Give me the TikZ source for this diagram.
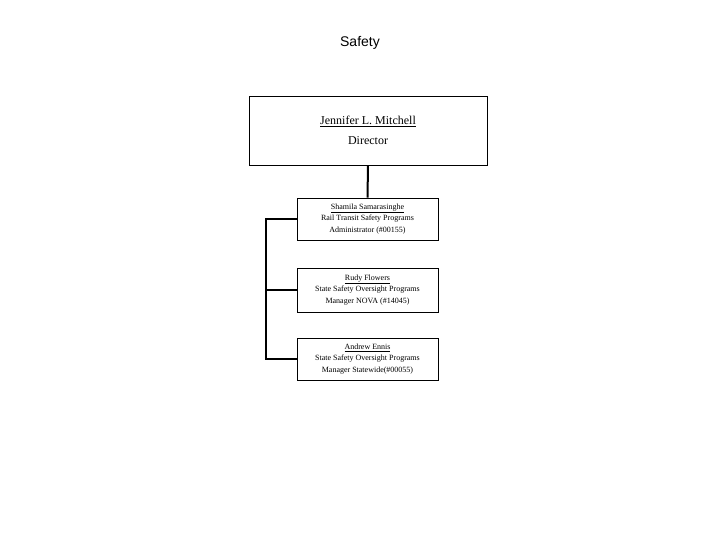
\documentclass[tikz,border=0pt]{standalone}
\usepackage{fontspec}
\setmainfont{Liberation Serif}
\newfontfamily\hd{Liberation Sans}
\begin{document}
\begin{tikzpicture}[x=1pt,y=-1pt,
  box/.style={draw,line width=0.7pt,fill=white,inner sep=0pt,align=center},
  small/.style={box,minimum width=141pt,font=\fontsize{8}{11.5}\selectfont},
  con/.style={line width=2pt}]
\useasboundingbox (0,0) rectangle (720,540);
\node[font=\hd\fontsize{14}{16}\selectfont] (t) at (360,43) {Safety};
\node[box,minimum width=238pt,minimum height=69pt,font=\fontsize{12}{20}\selectfont] (d) at (368,130.5) {\underline{Jennifer L. Mitchell}\\Director};
\node[small,minimum height=42pt] (a) at (367.5,219) {\underline{Shamila Samarasinghe}\\Rail Transit Safety Programs\\Administrator (\#00155)};
\node[small,minimum height=44pt] (b) at (367.5,290) {\underline{Rudy Flowers}\\State Safety Oversight Programs\\Manager NOVA (\#14045)};
\node[small,minimum height=42pt] (c) at (367.5,359) {\underline{Andrew Ennis}\\State Safety Oversight Programs\\Manager Statewide(\#00055)};
\draw[con] (d.south) -- (a.north);
\coordinate (k1) at (266,219);
\coordinate (k3) at (266,359);
\draw[con] (a.west) -- (k1) -- (k3) -- (c.west);
\draw[con] (b.west) -- (266,290);
\end{tikzpicture}
\end{document}
